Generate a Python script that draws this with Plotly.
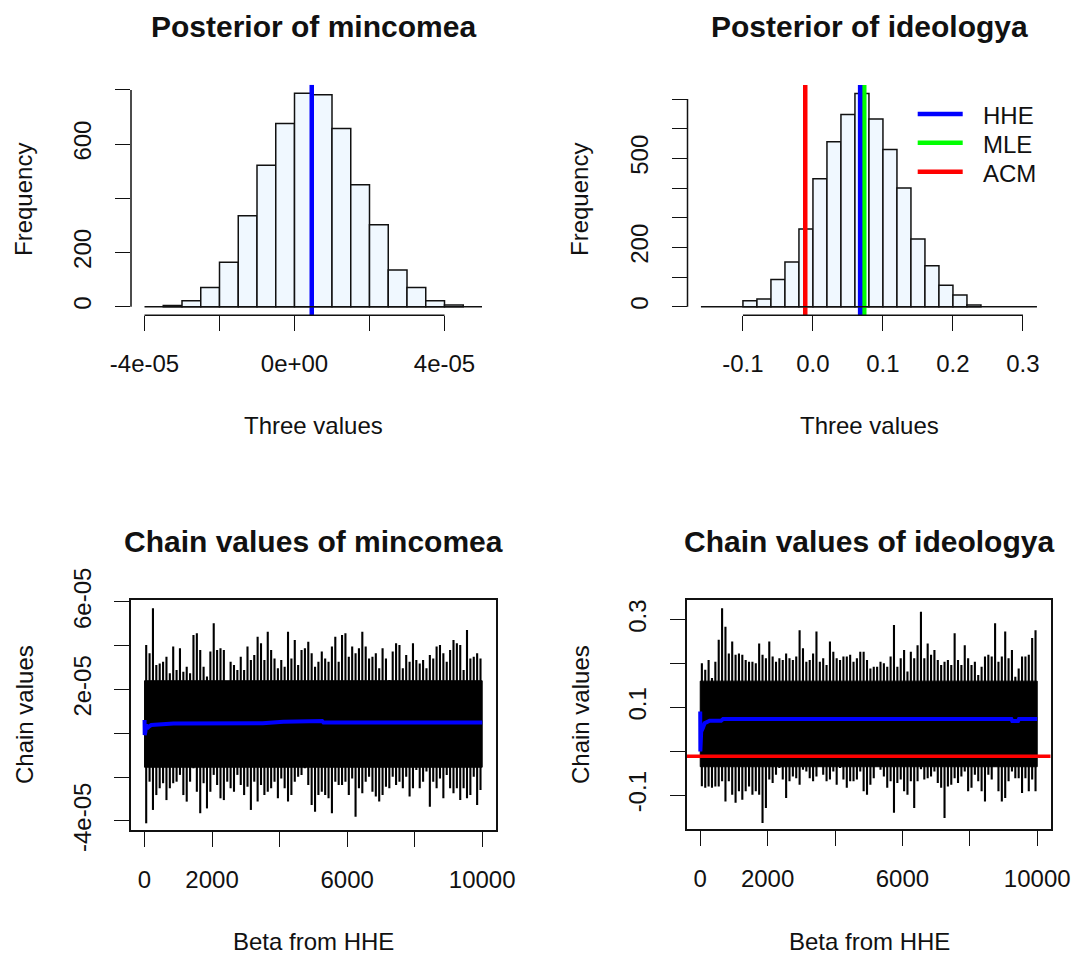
import plotly.graph_objects as go

W, H = 1075, 959
FONT = "Liberation Sans, Arial, sans-serif"
INK = "#111111"

# ---------------- data ----------------
# Histogram of the posterior draws of mincomea
mincomea_breaks = [-3.5e-05, -3.0e-05, -2.5e-05, -2.0e-05, -1.5e-05, -1.0e-05, -0.5e-05, 0.0,
                   0.5e-05, 1.0e-05, 1.5e-05, 2.0e-05, 2.5e-05, 3.0e-05, 3.5e-05, 4.0e-05, 4.5e-05]
mincomea_counts = [4, 22, 71, 164, 336, 522, 676, 788, 782, 658, 450, 302, 135, 71, 22, 6]
mincomea_hhe = 4.6e-06

# Histogram of the posterior draws of ideologya
ideologya_breaks = [-0.10, -0.08, -0.06, -0.04, -0.02, 0.00, 0.02, 0.04, 0.06, 0.08,
                    0.10, 0.12, 0.14, 0.16, 0.18, 0.20, 0.22, 0.24]
ideologya_counts = [20, 26, 92, 151, 262, 431, 556, 648, 719, 633, 530, 400, 228, 138, 72, 39, 6]
ideologya_hhe = 0.0674
ideologya_mle = 0.0733
ideologya_acm = -0.011

# Chain traces, summarised per block of 100 iterations (max / min of each block)
chain_blocks = list(range(50, 10000, 100))
mincomea_top = [4.03, 3.65, 5.71, 3.12, 3.19, 3.27, 3.50, 2.74, 3.96, 2.89,
                3.88, 2.81, 3.04, 2.74, 4.49, 4.57, 3.80, 3.04, 2.59, 3.73,
                5.02, 3.80, 3.88, 3.80, 2.28, 3.27, 3.12, 2.89, 3.50, 2.89,
                3.96, 3.35, 3.58, 4.41, 4.11, 3.35, 4.64, 3.80, 3.42, 2.97,
                3.35, 3.04, 4.64, 3.42, 4.26, 3.12, 3.80, 3.88, 4.18, 3.65,
                3.04, 3.27, 3.73, 3.42, 3.27, 3.96, 4.41, 3.27, 4.49, 4.57,
                3.50, 3.96, 3.65, 3.88, 4.64, 3.96, 3.42, 3.50, 3.65, 2.97,
                3.88, 3.42, 2.43, 3.73, 4.11, 4.03, 2.97, 3.58, 3.27, 4.11,
                3.35, 3.19, 3.35, 2.97, 3.58, 3.42, 3.96, 4.03, 3.65, 3.27,
                3.80, 4.26, 4.11, 4.03, 2.89, 4.72, 3.42, 3.50, 3.65, 3.42]  # x 1e-5
mincomea_bot = [-4.11, -2.21, -3.50, -2.82, -2.51, -2.28, -3.05, -2.51, -2.28, -2.21,
                -1.90, -2.82, -3.12, -2.21, -1.60, -2.67, -3.65, -2.28, -3.43, -2.67,
                -1.90, -2.36, -2.97, -3.05, -2.21, -2.51, -2.67, -1.90, -2.36, -2.82,
                -2.44, -3.50, -2.21, -3.12, -2.36, -2.82, -2.67, -2.51, -2.21, -2.97,
                -2.06, -2.51, -3.12, -2.82, -2.21, -1.98, -1.90, -1.60, -2.36, -3.27,
                -3.58, -2.82, -2.67, -2.82, -2.97, -3.65, -2.21, -2.36, -2.36, -2.21,
                -2.82, -2.06, -3.81, -2.51, -2.74, -2.21, -1.98, -2.67, -2.89, -3.12,
                -2.82, -2.44, -2.51, -1.98, -2.36, -2.21, -2.51, -1.98, -2.89, -2.51,
                -1.68, -2.51, -2.21, -1.75, -3.35, -2.21, -2.51, -2.06, -2.97, -1.90,
                -2.51, -2.74, -2.51, -3.05, -2.51, -2.97, -2.82, -1.98, -3.27, -2.59]  # x 1e-5
mincomea_core = [-1.55, 2.4]  # x 1e-5, dense band of the chain

ideologya_top = [20.1, 18.6, 20.8, 16.7, 20.4, 25.4, 32.6, 28.4, 22.3, 25.0,
                 22.0, 22.3, 22.0, 20.8, 20.4, 20.4, 20.1, 24.6, 22.0, 21.2,
                 25.0, 21.6, 20.4, 21.2, 20.8, 22.3, 21.2, 20.8, 21.6, 27.6,
                 23.5, 20.4, 20.8, 22.3, 27.3, 20.4, 21.2, 19.7, 25.0, 22.7,
                 21.2, 20.8, 21.6, 21.6, 22.0, 20.4, 21.2, 22.7, 22.7, 20.8,
                 18.9, 19.3, 19.3, 20.4, 20.1, 19.3, 21.6, 28.8, 19.3, 21.2,
                 23.1, 18.2, 22.7, 21.2, 24.2, 31.8, 21.2, 24.6, 22.0, 23.1,
                 20.8, 19.7, 20.4, 20.8, 19.7, 26.9, 20.8, 19.7, 24.2, 21.2,
                 19.7, 20.4, 17.4, 19.3, 21.6, 22.0, 21.6, 29.2, 20.4, 21.6,
                 27.3, 21.2, 23.1, 17.0, 18.9, 21.6, 21.6, 22.0, 25.8, 27.6]  # x 0.01
ideologya_bot = [-7.96, -8.3, -8.0, -8.3, -8.0, -8.0, -6.8, -11.4, -6.8, -9.9,
                 -11.7, -9.1, -11.0, -9.1, -8.0, -9.9, -9.1, -9.9, -16.3, -12.9,
                 -6.4, -7.2, -5.3, -3.8, -6.4, -10.6, -6.8, -5.7, -6.1, -7.6,
                 -4.2, -4.6, -6.1, -6.8, -5.7, -3.4, -5.3, -6.8, -6.4, -4.6,
                 -7.6, -3.8, -6.4, -8.3, -6.8, -6.8, -6.4, -4.6, -9.1, -9.9,
                 -7.6, -6.1, -2.3, -4.2, -5.7, -8.3, -6.8, -14.0, -7.2, -6.4,
                 -9.1, -9.9, -6.8, -12.9, -6.8, -4.1, -6.4, -6.1, -5.7, -4.6,
                 -7.2, -8.3, -15.2, -8.0, -7.6, -6.1, -7.2, -5.7, -4.6, -9.1,
                 -8.3, -5.3, -6.8, -9.1, -11.4, -5.3, -6.4, -3.4, -9.1, -11.4,
                 -10.6, -6.8, -4.6, -6.1, -6.1, -9.5, -6.1, -9.1, -6.4, -9.1]  # x 0.01
ideologya_core = [-3.5, 16.0]  # x 0.01

# Running mean of the chains (HHE estimate)
mincomea_mean_iter = [1, 5, 12, 25, 45, 80, 120, 200, 860, 2000, 3500, 4110, 4620, 5000, 5260, 5300, 7500, 10000]
mincomea_mean_val = [0.61, -0.08, 0.55, 0.05, 0.40, 0.22, 0.30, 0.38, 0.45, 0.45, 0.46, 0.53, 0.55, 0.56, 0.56, 0.49, 0.49, 0.49]  # x 1e-5
ideologya_mean_iter = [1, 5, 15, 30, 80, 130, 280, 620, 680, 9230, 9260, 9430, 9460, 10000]
ideologya_mean_val = [9.1, 0.0, 6.0, 4.5, 5.3, 6.4, 7.0, 7.0, 7.4, 7.4, 6.9, 6.9, 7.4, 7.4]  # x 0.01
n_iter = 10000

# ---------------- helpers ----------------
def fx(px):
    return px / W


def fy(py):
    return 1 - py / H


def ax(**kw):
    d = dict(showgrid=False, zeroline=False, ticks="outside", ticklen=15, tickwidth=1.4,
             tickcolor=INK, tickfont=dict(family=FONT, size=24, color=INK),
             showline=False, fixedrange=True, tickmode="array", automargin=False)
    d.update(kw)
    return d


fig = go.Figure()

# ---------------- panel 1: histogram mincomea ----------------
c1 = [(a + b) / 2 for a, b in zip(mincomea_breaks[:-1], mincomea_breaks[1:])]
w1 = [b - a for a, b in zip(mincomea_breaks[:-1], mincomea_breaks[1:])]
fig.add_trace(go.Bar(x=c1, y=mincomea_counts, width=w1, xaxis="x", yaxis="y",
                     marker=dict(color="#F0F8FF", line=dict(color=INK, width=1.5)),
                     showlegend=False, hoverinfo="skip"))
yr1 = [-31.5, 819.5]
fig.add_trace(go.Scatter(x=[mincomea_hhe, mincomea_hhe], y=yr1, mode="lines", xaxis="x", yaxis="y",
                         line=dict(color="#0000FF", width=4.5), showlegend=False, hoverinfo="skip"))

# ---------------- panel 2: histogram ideologya ----------------
c2 = [(a + b) / 2 for a, b in zip(ideologya_breaks[:-1], ideologya_breaks[1:])]
w2 = [b - a for a, b in zip(ideologya_breaks[:-1], ideologya_breaks[1:])]
fig.add_trace(go.Bar(x=c2, y=ideologya_counts, width=w2, xaxis="x2", yaxis="y2",
                     marker=dict(color="#F0F8FF", line=dict(color=INK, width=1.5)),
                     showlegend=False, hoverinfo="skip"))
yr2 = [-28.8, 747.8]
for val, col in [(ideologya_mle, "#00FF00"), (ideologya_hhe, "#0000FF"), (ideologya_acm, "#FF0000")]:
    fig.add_trace(go.Scatter(x=[val, val], y=yr2, mode="lines", xaxis="x2", yaxis="y2",
                             line=dict(color=col, width=4.5), showlegend=False, hoverinfo="skip"))


# ---------------- chains ----------------
def chain_traces(top, bot, core, scale, xa, ya):
    xs, ys = [], []
    for it, t, b in zip(chain_blocks, top, bot):
        xs += [it, it, None]
        ys += [b * scale, t * scale, None]
    fig.add_trace(go.Scatter(x=[1, n_iter, n_iter, 1, 1],
                             y=[core[0] * scale, core[0] * scale, core[1] * scale, core[1] * scale, core[0] * scale],
                             mode="lines", fill="toself", fillcolor="#000000",
                             line=dict(color="#000000", width=1), xaxis=xa, yaxis=ya,
                             showlegend=False, hoverinfo="skip"))
    fig.add_trace(go.Scatter(x=xs, y=ys, mode="lines", line=dict(color="#000000", width=2.1),
                             xaxis=xa, yaxis=ya, showlegend=False, hoverinfo="skip"))


chain_traces(mincomea_top, mincomea_bot, mincomea_core, 1e-5, "x3", "y3")
fig.add_trace(go.Scatter(x=mincomea_mean_iter, y=[v * 1e-5 for v in mincomea_mean_val], mode="lines",
                         line=dict(color="#0000FF", width=4), xaxis="x3", yaxis="y3",
                         showlegend=False, hoverinfo="skip"))

chain_traces(ideologya_top, ideologya_bot, ideologya_core, 0.01, "x4", "y4")
fig.add_trace(go.Scatter(x=ideologya_mean_iter, y=[v * 0.01 for v in ideologya_mean_val], mode="lines",
                         line=dict(color="#0000FF", width=4), xaxis="x4", yaxis="y4",
                         showlegend=False, hoverinfo="skip"))
fig.add_trace(go.Scatter(x=[-400, 10400], y=[ideologya_acm, ideologya_acm], mode="lines",
                         line=dict(color="#FF0000", width=3.5), xaxis="x4", yaxis="y4",
                         showlegend=False, hoverinfo="skip"))

# ---------------- layout ----------------
XST = 12
YST = 14
layout = dict(
    width=W, height=H, margin=dict(l=0, r=0, t=0, b=0, pad=0, autoexpand=False),
    paper_bgcolor="white", plot_bgcolor="white", showlegend=False,
    font=dict(family=FONT, size=24, color=INK),
    xaxis=ax(domain=[fx(131), fx(495.5)], range=[-4.36e-5, 5.36e-5], anchor="y",
             tickvals=[-4e-5, -2e-5, 0, 2e-5, 4e-5], ticktext=["-4e-05", "", "0e+00", "", "4e-05"],
             ticklabelstandoff=XST),
    yaxis=ax(domain=[fy(315.2), fy(84.7)], range=yr1, anchor="x",
             tickvals=[0, 200, 400, 600, 800], ticktext=["0", "200", "", "600", ""],
             tickangle=-90, ticklabelstandoff=YST),
    xaxis2=ax(domain=[fx(687.5), fx(1050.4)], range=[-0.1792, 0.3392], anchor="y2",
              tickvals=[-0.1, 0, 0.1, 0.2, 0.3], ticktext=["-0.1", "0.0", "0.1", "0.2", "0.3"],
              ticklabelstandoff=XST),
    yaxis2=ax(domain=[fy(315.2), fy(84.9)], range=yr2, anchor="x2",
              tickvals=[0, 100, 200, 300, 400, 500, 600, 700],
              ticktext=["0", "", "200", "", "", "500", "", ""],
              tickangle=-90, ticklabelstandoff=YST),
    xaxis3=ax(domain=[fx(131), fx(495.7)], range=[-400, 10400], anchor="y3",
              tickvals=[0, 2000, 4000, 6000, 8000, 10000],
              ticktext=["0", "2000", "", "6000", "", "10000"],
              showline=True, mirror=True, linecolor=INK, linewidth=1.5, ticklabelstandoff=XST),
    yaxis3=ax(domain=[fy(830), fy(600)], range=[-4.416e-5, 6.087e-5], anchor="x3",
              tickvals=[-4e-5, -2e-5, 0, 2e-5, 4e-5, 6e-5],
              ticktext=["-4e-05", "", "", "2e-05", "", "6e-05"],
              showline=True, mirror=True, linecolor=INK, linewidth=1.5,
              tickangle=-90, ticklabelstandoff=YST),
    xaxis4=ax(domain=[fx(686.7), fx(1050.7)], range=[-400, 10400], anchor="y4",
              tickvals=[0, 2000, 4000, 6000, 8000, 10000],
              ticktext=["0", "2000", "", "6000", "", "10000"],
              showline=True, mirror=True, linecolor=INK, linewidth=1.5, ticklabelstandoff=XST),
    yaxis4=ax(domain=[fy(829.3), fy(600)], range=[-0.1775, 0.3448], anchor="x4",
              tickvals=[-0.1, 0, 0.1, 0.2, 0.3], ticktext=["-0.1", "", "0.1", "", "0.3"],
              showline=True, mirror=True, linecolor=INK, linewidth=1.5,
              tickangle=-90, ticklabelstandoff=YST),
)

shapes = []
# R-style axis lines for the histograms (from first to last tick) and zero baselines
shapes.append(dict(type="line", xref="x", yref="y domain", x0=-4e-5, x1=4e-5, y0=0, y1=0,
                   line=dict(color=INK, width=1.5)))
shapes.append(dict(type="line", xref="x domain", yref="y", x0=0, x1=0, y0=0, y1=800,
                   line=dict(color=INK, width=1.5)))
shapes.append(dict(type="line", xref="x", yref="y", x0=-4e-5, x1=5e-5, y0=0, y1=0,
                   line=dict(color=INK, width=1.5)))
shapes.append(dict(type="line", xref="x2", yref="y2 domain", x0=-0.1, x1=0.3, y0=0, y1=0,
                   line=dict(color=INK, width=1.5)))
shapes.append(dict(type="line", xref="x2 domain", yref="y2", x0=0, x1=0, y0=0, y1=700,
                   line=dict(color=INK, width=1.5)))
shapes.append(dict(type="line", xref="x2", yref="y2", x0=-0.16, x1=0.32, y0=0, y1=0,
                   line=dict(color=INK, width=1.5)))

# legend (R style: no box)
legend_items = [("HHE", "#0000FF", 114), ("MLE", "#00FF00", 142.7), ("ACM", "#FF0000", 171.7)]
annotations = []
for name, col, ypx in legend_items:
    shapes.append(dict(type="line", xref="paper", yref="paper", x0=fx(917.7), x1=fx(962.7),
                       y0=fy(ypx), y1=fy(ypx), line=dict(color=col, width=4.5)))
    annotations.append(dict(text=name, xref="paper", yref="paper", x=fx(981), y=fy(ypx + 1.5),
                            xanchor="left", yanchor="middle", showarrow=False,
                            font=dict(family=FONT, size=24, color=INK)))


def txt(s, xpx, ypx, size=24, bold=False, angle=0):
    annotations.append(dict(text=("<b>%s</b>" % s) if bold else s, xref="paper", yref="paper",
                            x=fx(xpx), y=fy(ypx), xanchor="center", yanchor="middle",
                            showarrow=False, textangle=angle,
                            font=dict(family=FONT, size=size, color=INK)))


txt("Posterior of mincomea", 313, 27, size=30, bold=True)
txt("Posterior of ideologya", 869, 27, size=30, bold=True)
txt("Chain values of mincomea", 313, 541, size=30, bold=True)
txt("Chain values of ideologya", 869, 541, size=30, bold=True)
txt("Three values", 313, 425)
txt("Three values", 869, 425)
txt("Beta from HHE", 313, 941)
txt("Beta from HHE", 869, 941)
txt("Frequency", 24, 200, angle=-90)
txt("Frequency", 580, 200, angle=-90)
txt("Chain values", 24, 715, angle=-90)
txt("Chain values", 580, 715, angle=-90)

layout["shapes"] = shapes
layout["annotations"] = annotations
fig.update_layout(**layout)

fig.write_html("out.html", config={"displayModeBar": False})
